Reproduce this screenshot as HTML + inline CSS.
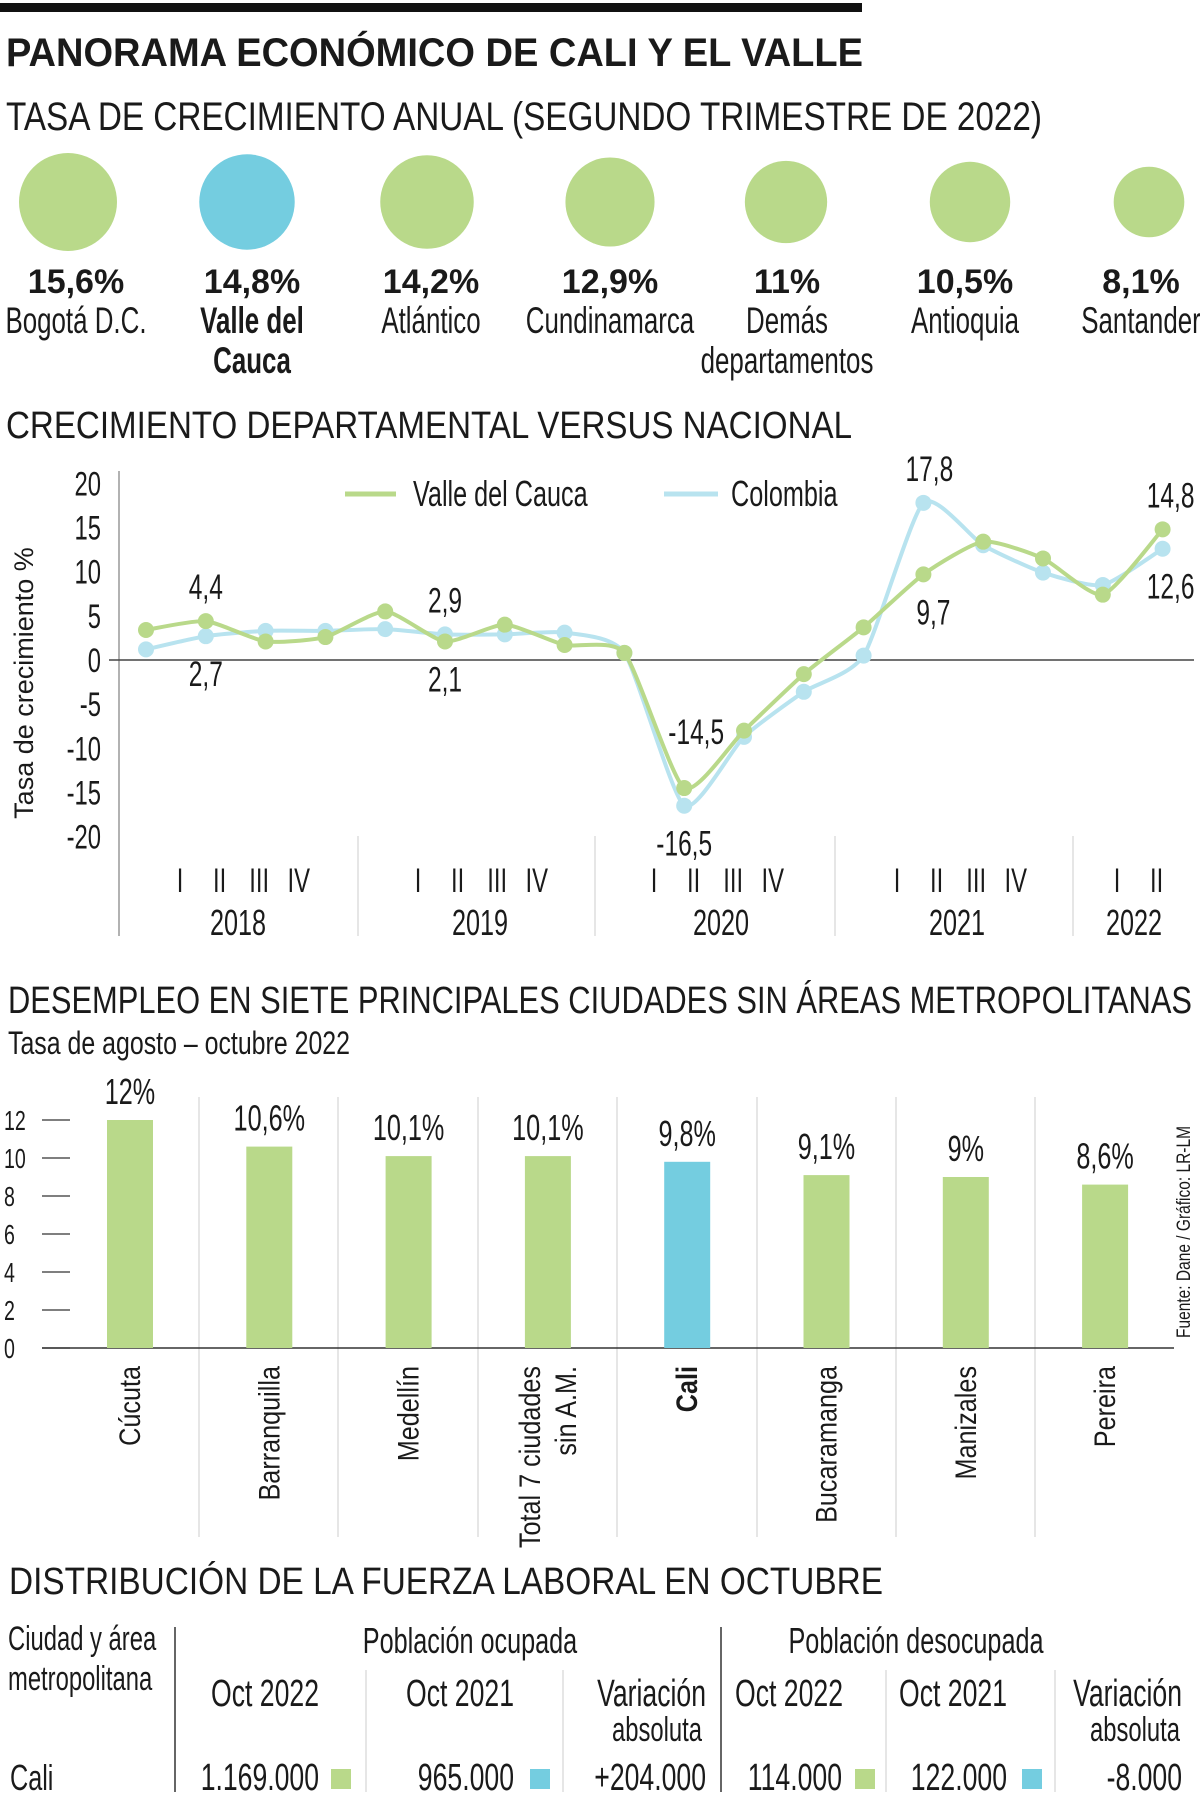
<!DOCTYPE html>
<html><head><meta charset="utf-8"><style>
html,body{margin:0;padding:0;background:#fff;}
svg{display:block;}
text{font-family:"Liberation Sans Narrow","Liberation Sans",sans-serif;fill:#1a1a1a;}
.b{font-family:"Liberation Sans",sans-serif;font-weight:bold;}
.r{font-family:"Liberation Sans",sans-serif;}
</style></head><body>
<svg id="s" width="1200" height="1802" viewBox="0 0 1200 1802" xmlns="http://www.w3.org/2000/svg">
<rect x="0" y="3" width="862" height="9" fill="#111"/>
<text class="b" x="6" y="66" font-size="40" textLength="857" lengthAdjust="spacingAndGlyphs">PANORAMA ECONÓMICO DE CALI Y EL VALLE</text>
<text x="6" y="130" font-size="40" textLength="1036" lengthAdjust="spacingAndGlyphs">TASA DE CRECIMIENTO ANUAL (SEGUNDO TRIMESTRE DE 2022)</text>
<g id="bubbles"></g>
<text x="6" y="438" font-size="38" textLength="846" lengthAdjust="spacingAndGlyphs">CRECIMIENTO DEPARTAMENTAL VERSUS NACIONAL</text>
<g id="line"></g>
<text x="8" y="1013" font-size="38" textLength="1184" lengthAdjust="spacingAndGlyphs">DESEMPLEO EN SIETE PRINCIPALES CIUDADES SIN ÁREAS METROPOLITANAS</text>
<text x="8" y="1054" font-size="32" textLength="342" lengthAdjust="spacingAndGlyphs">Tasa de agosto – octubre 2022</text>
<g id="bars"></g>
<text class="r" font-size="19" transform="translate(1190,1338) rotate(-90)" textLength="212" lengthAdjust="spacingAndGlyphs">Fuente: Dane / Gráfico: LR-LM</text>
<text x="9" y="1594" font-size="38" textLength="874" lengthAdjust="spacingAndGlyphs">DISTRIBUCIÓN DE LA FUERZA LABORAL EN OCTUBRE</text>
<g id="table">
<line x1="175" y1="1627" x2="175" y2="1792" stroke="#333" stroke-width="1.5"/>
<line x1="721" y1="1627" x2="721" y2="1792" stroke="#333" stroke-width="1.5"/>
<line x1="366" y1="1670" x2="366" y2="1792" stroke="#ccc"/>
<line x1="563" y1="1670" x2="563" y2="1792" stroke="#ccc"/>
<line x1="886" y1="1670" x2="886" y2="1792" stroke="#ccc"/>
<line x1="1055" y1="1670" x2="1055" y2="1792" stroke="#ccc"/>
<text x="8" y="1650" font-size="34">Ciudad y área</text>
<text x="8" y="1690" font-size="34">metropolitana</text>
<text x="470" y="1653" font-size="36" text-anchor="middle">Población ocupada</text>
<text x="916" y="1653" font-size="36" text-anchor="middle">Población desocupada</text>
<text x="265" y="1706" font-size="38" text-anchor="middle">Oct 2022</text>
<text x="460" y="1706" font-size="38" text-anchor="middle">Oct 2021</text>
<text x="706" y="1706" font-size="38" text-anchor="end">Variación</text>
<text x="702" y="1741" font-size="34" text-anchor="end">absoluta</text>
<text x="789" y="1706" font-size="38" text-anchor="middle">Oct 2022</text>
<text x="953" y="1706" font-size="38" text-anchor="middle">Oct 2021</text>
<text x="1182" y="1706" font-size="38" text-anchor="end">Variación</text>
<text x="1180" y="1741" font-size="34" text-anchor="end">absoluta</text>
<text x="10" y="1790" font-size="36">Cali</text>
<text x="319" y="1790" font-size="38" text-anchor="end">1.169.000</text>
<rect x="331" y="1769" width="20" height="20" fill="#b9d98a"/>
<text x="514" y="1790" font-size="38" text-anchor="end">965.000</text>
<rect x="530" y="1769" width="20" height="20" fill="#74cde0"/>
<text x="706" y="1790" font-size="38" text-anchor="end">+204.000</text>
<text x="842" y="1790" font-size="38" text-anchor="end">114.000</text>
<rect x="855" y="1769" width="20" height="20" fill="#b9d98a"/>
<text x="1007" y="1790" font-size="38" text-anchor="end">122.000</text>
<rect x="1022" y="1769" width="20" height="20" fill="#74cde0"/>
<text x="1182" y="1790" font-size="38" text-anchor="end">-8.000</text>
</g>
</svg>
<script>
const NS='http://www.w3.org/2000/svg';
function mk(parent,tag,attrs,txt){const e=document.createElementNS(NS,tag);for(const k in attrs)e.setAttribute(k,attrs[k]);if(txt!==undefined)e.textContent=txt;parent.appendChild(e);return e;}

// ===== bubbles data =====
const bubbleNames=[['Bogotá D.C.'],['Valle del','Cauca'],['Atlántico'],['Cundinamarca'],['Demás','departamentos'],['Antioquia'],['Santander']];
const bubbleValues=[15.6,14.8,14.2,12.9,11,10.5,8.1];
const bubbleLabels=['15,6%','14,8%','14,2%','12,9%','11%','10,5%','8,1%'];
const bubbleCx=[68,247,427,610,786,970,1149];
const bubbleLabelX=[76,252,431,610,787,965,1141];
const gB=document.getElementById('bubbles');
bubbleValues.forEach((v,i)=>{
  const r=Math.sqrt(v/15.6)*49;
  const c=mk(gB,'circle',{cx:bubbleCx[i],cy:202,r:r,fill:i===1?'#74cde0':'#b9d98a'});
  
  
  const t=mk(gB,'text',{x:bubbleLabelX[i],y:293,'font-size':34,'text-anchor':'middle',class:'b'},bubbleLabels[i]);
  
  
  bubbleNames[i].forEach((n,j)=>{
    const tn=mk(gB,'text',{x:bubbleLabelX[i],y:333+j*40,'font-size':37,'text-anchor':'middle','font-weight':i===1?'bold':'normal'},n);
    
    
  });
});

// ===== line chart data =====
const quarters=['2018-I','2018-II','2018-III','2018-IV','2019-I','2019-II','2019-III','2019-IV','2020-I','2020-II','2020-III','2020-IV','2021-I','2021-II','2021-III','2021-IV','2022-I','2022-II'];
const valleSeries=[3.4,4.4,2.1,2.6,5.5,2.1,4.0,1.7,0.8,-14.5,-8.0,-1.6,3.7,9.7,13.4,11.5,7.4,14.8];
const colombiaSeries=[1.2,2.7,3.3,3.3,3.5,2.9,2.9,3.1,0.8,-16.5,-8.7,-3.6,0.5,17.8,13.0,9.9,8.5,12.6];
const yTicks=[20,15,10,5,0,-5,-10,-15,-20];
const lineLabelText=['4,4','2,7','2,9','2,1','-14,5','-16,5','17,8','9,7','14,8','12,6'];
const lineLabelIdx=[1,1,5,5,9,9,13,13,17,17];
const lineLabelSeries=['v','c','c','v','v','c','c','v','v','c'];
const lineLabelPos=['up','down','up','down','upright','down','up','down','up','down'];
const years=['2018','2019','2020','2021','2022'];
const yearQuarters=[4,4,4,4,2];
const qNames=['I','II','III','IV'];

const lx=i=>146+i*59.8;
const ly=v=>660-v*8.83;
const gL=document.getElementById('line');
let e;
e=mk(gL,'line',{x1:119,y1:471,x2:119,y2:936,stroke:'#999','stroke-width':1.5});

e=mk(gL,'line',{x1:109,y1:ly(0),x2:1194,y2:ly(0),stroke:'#444','stroke-width':1.5});

yTicks.forEach(v=>{
  const t=mk(gL,'text',{x:101,y:ly(v)+12,'font-size':34,'text-anchor':'end'},String(v));
  
});
e=mk(gL,'text',{class:'r','font-size':27,'text-anchor':'middle',transform:'translate(33,683) rotate(-90)'},'Tasa de crecimiento %');

function smooth(vals){
  const pts=vals.map((v,i)=>[lx(i),ly(v)]);
  let d='M'+pts[0][0]+','+pts[0][1];
  for(let i=0;i<pts.length-1;i++){
    const p0=pts[i-1]||pts[i],p1=pts[i],p2=pts[i+1],p3=pts[i+2]||p2;
    const t=0.1;
    d+=' C'+(p1[0]+(p2[0]-p0[0])*t)+','+(p1[1]+(p2[1]-p0[1])*t)+' '+(p2[0]-(p3[0]-p1[0])*t)+','+(p2[1]-(p3[1]-p1[1])*t)+' '+p2[0]+','+p2[1];
  }
  return d;
}
[[colombiaSeries,'#b8e3ef','colombia'],[valleSeries,'#b9d98a','valle']].forEach(([s,col,n])=>{
  const p=mk(gL,'path',{d:smooth(s),fill:'none',stroke:col,'stroke-width':4});
  
  s.forEach((v,i)=>{
    const c=mk(gL,'circle',{cx:lx(i),cy:ly(v),r:8,fill:col});
    
  });
});
lineLabelText.forEach((t,k)=>{
  const i=lineLabelIdx[k];const v=lineLabelSeries[k]==='v'?valleSeries[i]:colombiaSeries[i];
  const pos=lineLabelPos[k];
  let x=lx(i),y=ly(v);
  if(pos==='up')y-=22;else if(pos==='down')y+=50;else{y-=44;x+=12;}
  if(i===17)x+=8;
  if(i===13&&pos==='up')x+=6;
  if(i===13&&pos==='down')x+=10;
  const te=mk(gL,'text',{x:x,y:y,'font-size':35,'text-anchor':'middle'},t);
  
});
// legend
e=mk(gL,'line',{x1:345,y1:494,x2:396,y2:494,stroke:'#b9d98a','stroke-width':5});

e=mk(gL,'text',{x:413,y:506,'font-size':36},'Valle del Cauca');

e=mk(gL,'line',{x1:664,y1:494,x2:718,y2:494,stroke:'#b8e3ef','stroke-width':5});

e=mk(gL,'text',{x:731,y:506,'font-size':36},'Colombia');

// x axis groups
const yearStart=[180,418,654,897,1117];
const yearCenter=[238,480,721,957,1134];
[358,595,835,1073].forEach(x=>{
  const s=mk(gL,'line',{x1:x,y1:836,x2:x,y2:936,stroke:'#ccc'});
  
});
years.forEach((y,k)=>{
  for(let q=0;q<yearQuarters[k];q++){
    const t=mk(gL,'text',{x:yearStart[k]+q*39.6,y:892,'font-size':34,'text-anchor':'middle'},qNames[q]);
    
  }
  const t=mk(gL,'text',{x:yearCenter[k],y:935,'font-size':36,'text-anchor':'middle'},y);
  
});

// ===== bar chart data =====
const cities=['Cúcuta','Barranquilla','Medellín','Total 7 ciudades|sin A.M.','Cali','Bucaramanga','Manizales','Pereira'];
const rates=[12,10.6,10.1,10.1,9.8,9.1,9,8.6];
const rateLabels=['12%','10,6%','10,1%','10,1%','9,8%','9,1%','9%','8,6%'];
const barTicks=[0,2,4,6,8,10,12];
const bx=i=>130+i*139.3;
const by=v=>1348-v*19;
const gBar=document.getElementById('bars');
[199,338,478,617,757,896,1035].forEach(x=>{
  const s=mk(gBar,'line',{x1:x,y1:1097,x2:x,y2:1537,stroke:'#ccc'});
  
});
barTicks.forEach(v=>{
  const l=mk(gBar,'line',{x1:42,y1:by(v),x2:70,y2:by(v),stroke:'#333','stroke-width':1.2});
  
  const t=mk(gBar,'text',{x:4,y:by(v)+10,'font-size':28},String(v));
  
});
e=mk(gBar,'line',{x1:42,y1:by(0),x2:1174,y2:by(0),stroke:'#333','stroke-width':1.5});

rates.forEach((v,i)=>{
  const r=mk(gBar,'rect',{x:bx(i)-23,y:by(v),width:46,height:by(0)-by(v),fill:i===4?'#74cde0':'#b9d98a'});
  
  const t=mk(gBar,'text',{x:bx(i),y:by(v)-16,'font-size':36,'text-anchor':'middle'},rateLabels[i]);
  
  const parts=cities[i].split('|');
  parts.forEach((p,j)=>{
    const off=(j-(parts.length-1)/2)*36;
    const ct=mk(gBar,'text',{class:'r cat','font-size':30,'text-anchor':'end','font-weight':i===4?'bold':'normal',transform:'translate('+(bx(i)+10+off)+',1366) rotate(-90)'},p);
    
  });
});

// condense text (narrow font emulation)
document.querySelectorAll('text').forEach(t=>{
  if(t.hasAttribute('textLength'))return;
  if(t.classList.contains('b'))return;
  const f=t.classList.contains('cat')?0.84:(t.classList.contains('r')?1:0.7);
  if(f===1)return;
  const w=t.getComputedTextLength();
  t.setAttribute('textLength',(w*f).toFixed(1));
  t.setAttribute('lengthAdjust','spacingAndGlyphs');
});
</script>
</body></html>
